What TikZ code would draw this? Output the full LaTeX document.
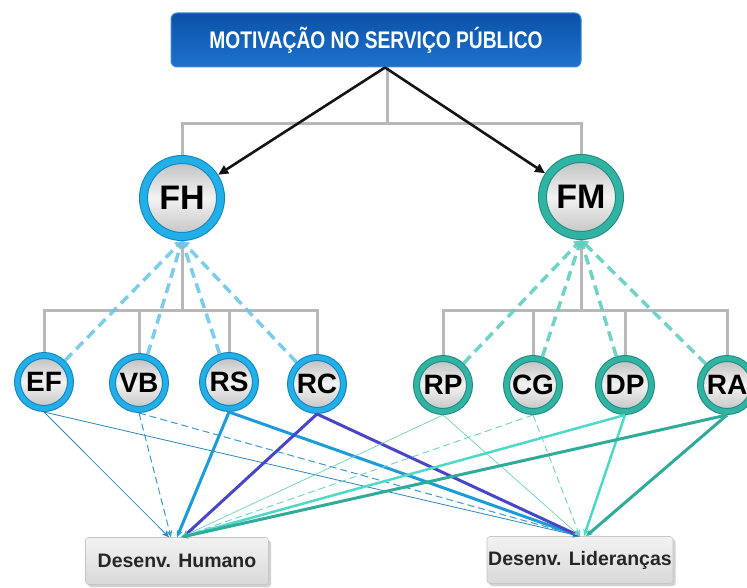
\documentclass[tikz,border=0pt]{standalone}
\usepackage{fontspec}
\setmainfont{Liberation Sans}
\usetikzlibrary{arrows.meta,shadows}
\definecolor{boxtop}{HTML}{0B52A8}
\definecolor{boxbot}{HTML}{1D72CC}
\definecolor{boxedge}{HTML}{3D8AD8}
\definecolor{ringblue}{HTML}{22AEE6}
\definecolor{ringblueD}{HTML}{0F82BE}
\definecolor{ringteal}{HTML}{30B3A3}
\definecolor{ringtealD}{HTML}{1D8A7C}
\definecolor{ing1}{HTML}{BDBDBD}
\definecolor{ing2}{HTML}{F3F3F3}
\definecolor{ing3}{HTML}{C2C2C2}
\definecolor{treegray}{HTML}{B8B8B8}
\definecolor{dashblue}{HTML}{6EC6EA}
\definecolor{dashteal}{HTML}{62CEC1}
\definecolor{cef}{HTML}{2A86BB}
\definecolor{cvb}{HTML}{3A9AD0}
\definecolor{crs}{HTML}{1C9BD9}
\definecolor{crc}{HTML}{4A45C8}
\definecolor{crp}{HTML}{6FCFC2}
\definecolor{ccg}{HTML}{6FCFC2}
\definecolor{cdp}{HTML}{4ED8C8}
\definecolor{cra}{HTML}{2EAB99}
\begin{document}
\begin{tikzpicture}[x=1pt,y=-1pt,
  bigc/.style={circle, minimum size=77pt, inner sep=0pt, line width=1pt,
    double distance=7pt, outer sep=4.5pt,
    top color=ing1, bottom color=ing3, middle color=ing2,
    font=\fontsize{34}{34}\selectfont\bfseries},
  smallc/.style={circle, minimum size=53pt, inner sep=0pt, line width=1pt,
    double distance=5pt, outer sep=3.5pt,
    top color=ing1, bottom color=ing3, middle color=ing2,
    font=\fontsize{28}{28}\selectfont\bfseries},
  blu/.style={draw=ringblueD, double=ringblue},
  tea/.style={draw=ringtealD, double=ringteal},
  graybox/.style={rectangle, rounded corners=3pt, minimum width=183pt,
    minimum height=47pt, inner sep=0pt, top color=gray!10, bottom color=gray!30,
    draw=gray!45, line width=0.6pt,
    drop shadow={shadow xshift=2.5pt, shadow yshift=-2.5pt, opacity=.45, fill=gray!80},
    text=black!85, font=\fontsize{19.5}{19.5}\selectfont\bfseries},
  tree/.style={draw=treegray, line width=3pt},
  blk/.style={draw=black!92, line width=2.6pt, -{Triangle[length=10pt,width=9pt]}},
  dashL/.style={draw=dashblue, line width=3.5pt, dash pattern=on 10pt off 6pt,
    -{Triangle[length=7pt,width=9pt]}, opacity=.9},
  dashR/.style={dashL, draw=dashteal},
  tip/.style={-{Stealth[length=7pt,width=6pt]}},
  lef/.style={tip, draw=cef, line width=0.8pt},
  lvb/.style={tip, draw=cvb, line width=1pt, dash pattern=on 7pt off 4pt},
  lrs/.style={tip, draw=crs, line width=3pt},
  lrc/.style={tip, draw=crc, line width=3pt},
  lrp/.style={tip, draw=crp, line width=0.7pt},
  lcg/.style={tip, draw=ccg, line width=0.9pt, dash pattern=on 7pt off 4pt},
  ldp/.style={tip, draw=cdp, line width=2.5pt},
  lra/.style={tip, draw=cra, line width=3pt}
]
\useasboundingbox (0,0) rectangle (747,588);

% top box
\node (top) at (376,40) [rectangle, rounded corners=6pt, minimum width=410pt,
  minimum height=54pt, top color=boxtop, bottom color=boxbot, draw=boxedge,
  line width=1pt, text=white, font=\fontsize{24}{24}\selectfont\bfseries]
  {\scalebox{0.8}[1]{MOTIVAÇÃO NO SERVIÇO PÚBLICO}};

% circles
\node[bigc,blu] (FH) at (182,198) {FH};
\node[bigc,tea] (FM) at (581,197) {FM};

\node[smallc,blu] (EF) at (44,382) {EF};
\node[smallc,blu] (VB) at (139,383) {VB};
\node[smallc,blu] (RS) at (229,382) {RS};
\node[smallc,blu] (RC) at (317,384) {RC};

\node[smallc,tea] (RP) at (443,385) {RP};
\node[smallc,tea] (CG) at (533,385) {CG};
\node[smallc,tea] (DP) at (625,385) {DP};
\node[smallc,tea] (RA) at (727,385) {RA};

% bottom boxes
\node[graybox] (DH) at (177,561) {Desenv. Humano};
\node[graybox, minimum width=186pt] (DL) at (580,560) {Desenv. Lideranças};

% gray trees
\coordinate (t0) at (387,124);
\coordinate (t1) at (182,310);
\coordinate (t2) at (581,310);
\draw[tree] ([xshift=11pt]top.south) -- (t0);
\draw[tree] (FH.north) |- (t0) -| (FM.north);
\draw[tree] (FH.south) -- (t1);
\draw[tree] (EF.north) |- (t1) -| (RC.north);
\draw[tree] (VB.north) |- (t1);
\draw[tree] (RS.north) |- (t1);
\draw[tree] (FM.south) -- (t2);
\draw[tree] (RP.north) |- (t2) -| (RA.north);
\draw[tree] (CG.north) |- (t2);
\draw[tree] (DP.north) |- (t2);

% black arrows
\draw[blk] ([xshift=9pt]top.south) -- (FH);
\draw[blk] ([xshift=9pt]top.south) -- (FM);

% dashed arrows up
\draw[dashL] (EF) -- (FH.south);
\draw[dashL] (VB) -- (FH.south);
\draw[dashL] (RS) -- (FH.south);
\draw[dashL] (RC) -- (FH.south);
\draw[dashR] (RP) -- (FM.south);
\draw[dashR] (CG) -- (FM.south);
\draw[dashR] (DP) -- (FM.south);
\draw[dashR] (RA) -- (FM.south);

% links to bottom boxes
\draw[lef] (EF.south) -- ([xshift=-8pt]DH.north);
\draw[lef] (EF.south) -- (DL.north);
\draw[lvb] (VB.south) -- ([xshift=-6pt]DH.north);
\draw[lvb] (VB.south) -- (DL.north);
\draw[lrs] (RS.south) -- (DH.north);
\draw[lrs] (RS.south) -- (DL.north);
\draw[lrc] (RC.south) -- ([xshift=6pt]DH.north);
\draw[lrc] (RC.south) -- (DL.north);
\draw[lrp] (RP.south) -- ([xshift=4pt]DH.north);
\draw[lrp] (RP.south) -- (DL.north);
\draw[lcg] (CG.south) -- ([xshift=4pt]DH.north);
\draw[lcg] (CG.south) -- (DL.north);
\draw[ldp] (DP.south) -- ([xshift=4pt]DH.north);
\draw[ldp] (DP.south) -- ([xshift=4pt]DL.north);
\draw[lra] (RA.south) -- ([xshift=4pt]DH.north);
\draw[lra] (RA.south) -- ([xshift=6pt]DL.north);
\end{tikzpicture}
\end{document}
